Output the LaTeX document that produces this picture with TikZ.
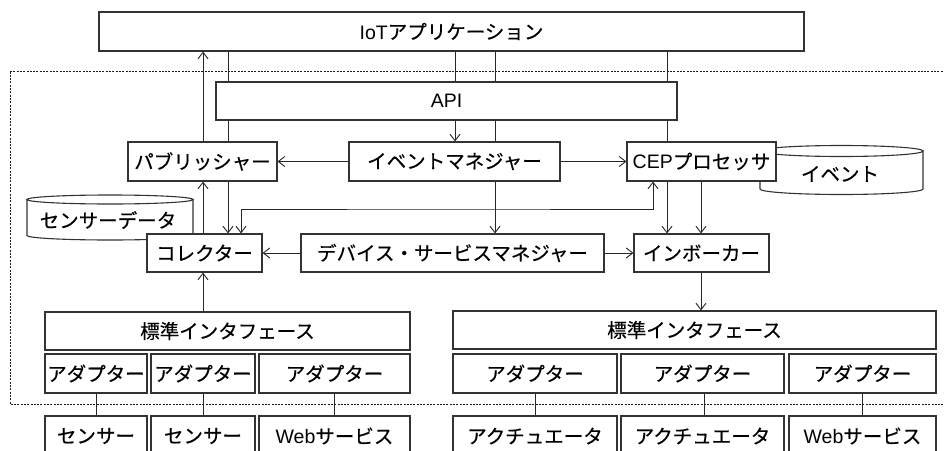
\documentclass[tikz,border=0pt]{standalone}
\usepackage{fontspec}
\setmainfont{Noto Sans CJK JP}[FakeBold=0.4]
\newfontfamily\lat{Liberation Sans}
\usetikzlibrary{arrows.meta}
\newcommand\mybox[6]{\node[box,minimum width={(#4-#2)*1pt},minimum height={(#5-#3)*1pt}] (#1) at ({(#2+#4)/2},{(#3+#5)/2}) {#6};}
\tikzset{
  box/.style={draw=black!80, line width=1.1pt, fill=white, inner sep=0pt, font=\fontsize{19.5}{21}\selectfont},
  ln/.style={draw=black!85, line width=0.9pt},
  arr/.style={ln, -{Straight Barb[length=6.5pt,width=10pt]}},
  arrr/.style={ln, {Straight Barb[length=6.5pt,width=10pt]}-{Straight Barb[length=6.5pt,width=10pt]}},
  cyl/.style={draw=black!80, line width=1.1pt, fill=white},
  cyltext/.style={font=\fontsize{19.5}{21}\selectfont, inner sep=0pt}
}
\begin{document}
\begin{tikzpicture}[x=1pt,y=-1pt]
\useasboundingbox (0,0) rectangle (944,450);
\clip (0,0) rectangle (944,450);
\fill[white] (0,0) rectangle (944,450);
% dashed platform boundary
\draw[black!90, line width=1pt, dash pattern=on 2pt off 1.3pt] (10,71.5) -- (960,71.5) (10,71.5) -- (10,404) -- (960,404);
% cylinders
\draw[cyl] (27,199.5) -- (27,235.5) arc[start angle=180,end angle=360,x radius=83pt,y radius=4.5pt] -- (193,199.5) -- cycle;
\draw[cyl] (110,199.5) ellipse [x radius=83pt, y radius=4.5pt];
\node[cyltext] (sdata) at (108,220) {センサーデータ};
\draw[cyl] (760,151) -- (760,189) arc[start angle=180,end angle=360,x radius=81.5pt,y radius=5.5pt] -- (923,151) -- cycle;
\draw[cyl] (841.5,151) ellipse [x radius=81.5pt, y radius=5.5pt];
\node[cyltext] (evdb) at (840,174) {イベント};
% boxes
\mybox{app}{99}{12}{804}{51}{{\lat IoT}アプリケーション}
\mybox{api}{216}{82}{677}{120}{\lat API}
\mybox{pub}{128}{142}{277}{181}{パブリッシャー}
\mybox{evm}{349}{142}{560}{181}{イベントマネジャー}
\mybox{cep}{627}{142}{776}{181}{{\lat CEP}プロセッサ}
\mybox{coll}{147}{234}{262}{272}{コレクター}
\mybox{dsm}{301}{234}{604}{272}{デバイス・サービスマネジャー}
\mybox{inv}{634}{234}{769}{272}{インボーカー}
\mybox{stdL}{45}{312}{410}{350}{標準インタフェース}
\mybox{aL1}{45}{354}{147}{393}{アダプター}
\mybox{aL2}{151}{354}{255}{393}{アダプター}
\mybox{aL3}{259}{354}{410}{393}{アダプター}
\mybox{dL1}{45}{416}{147}{456}{センサー}
\mybox{dL2}{151}{416}{255}{456}{センサー}
\mybox{dL3}{259}{416}{410}{456}{{\lat Web}サービス}
\mybox{stdR}{453}{311}{936}{349}{標準インタフェース}
\mybox{aR1}{453}{354}{617}{393}{アダプター}
\mybox{aR2}{621}{354}{784}{393}{アダプター}
\mybox{aR3}{789}{354}{936}{393}{アダプター}
\mybox{dR1}{453}{416}{617}{456}{アクチュエータ}
\mybox{dR2}{621}{416}{784}{456}{アクチュエータ}
\mybox{dR3}{789}{416}{936}{456}{{\lat Web}サービス}
% column coordinates
\coordinate (k96) at (96,0);
\coordinate (k203) at (203,0);
\coordinate (k228) at (228,0);
\coordinate (k241) at (241,0);
\coordinate (k334) at (334,0);
\coordinate (k455) at (455,0);
\coordinate (k495) at (495,0);
\coordinate (k535) at (535,0);
\coordinate (k653) at (653,0);
\coordinate (k667) at (667,0);
\coordinate (k701) at (701,0);
\coordinate (k704) at (704,0);
\coordinate (k862) at (862,0);
\coordinate (mid) at (450,209);
% connectors
\draw[arr] (pub.north -| k203) -- (app.south -| k203);
\draw[ln] (app.south -| k228) -- (api.north -| k228);
\draw[ln] (app.south -| k455) -- (api.north -| k455);
\draw[ln] (app.south -| k495) -- (api.north -| k495);
\draw[ln] (app.south -| k667) -- (api.north -| k667);
\draw[ln] (api.south -| k228) -- (pub.north -| k228);
\draw[arr] (api.south -| k455) -- (evm.north -| k455);
\draw[ln] (api.south -| k495) -- (evm.north -| k495);
\draw[ln] (api.south -| k667) -- (cep.north -| k667);
\draw[arr] (evm.west) -- (pub.east);
\draw[arr] (evm.east) -- (cep.west);
\draw[arr] (evm.south -| k495) -- (dsm.north -| k495);
\draw[arr] (coll.north -| k203) -- (pub.south -| k203);
\draw[arr] (pub.south -| k228) -- (coll.north -| k228);
\draw[arrr] (coll.north -| k241) |- (mid) -| (cep.south -| k653);
\draw[arr] (cep.south -| k667) -- (inv.north -| k667);
\draw[arr] (cep.south -| k701) -- (inv.north -| k701);
\draw[arr] (dsm.west) -- (coll.east);
\draw[arr] (dsm.east) -- (inv.west);
\draw[arr] (stdL.north -| k203) -- (coll.south -| k203);
\draw[arr] (inv.south -| k701) -- (stdR.north -| k701);
\draw[ln] (aL1.south -| k96) -- (dL1.north -| k96);
\draw[ln] (aL2.south -| k203) -- (dL2.north -| k203);
\draw[ln] (aL3.south -| k334) -- (dL3.north -| k334);
\draw[ln] (aR1.south -| k535) -- (dR1.north -| k535);
\draw[ln] (aR2.south -| k704) -- (dR2.north -| k704);
\draw[ln] (aR3.south -| k862) -- (dR3.north -| k862);
\end{tikzpicture}
\end{document}
